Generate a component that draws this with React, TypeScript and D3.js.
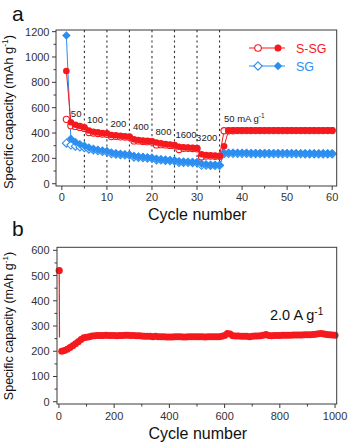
import React from "react";
import * as d3 from "d3";

// ---------- Panel a data ----------
const cyclesA = d3.range(1, 61);
const ssgDischarge = [890, 485, 465, 455, 445, 420, 410, 405, 400, 398, 385, 382, 378, 375, 372, 350, 345, 340, 338, 335, 325, 318, 314, 310, 306, 292, 288, 286, 284, 282, 232, 226, 224, 222, 220, 296, 420, 421, 421, 421, 421, 421, 421, 421, 421, 421, 421, 421, 421, 421, 421, 421, 421, 421, 421, 421, 421, 421, 421, 421];
const ssgCharge = [508, 458, 452, 444, 436, 404, 400, 396, 392, 390, 372, 374, 370, 368, 366, 338, 338, 334, 332, 330, 306, 308, 306, 302, 300, 270, 280, 280, 278, 276, 212, 218, 218, 216, 216, 418, 418, 418, 419, 419, 419, 419, 419, 419, 419, 419, 419, 419, 419, 419, 419, 419, 419, 419, 419, 419, 419, 419, 419, 419];
const sgDischarge = [1170, 355, 330, 312, 300, 285, 276, 268, 262, 258, 246, 241, 236, 232, 230, 220, 215, 212, 208, 205, 198, 194, 190, 187, 185, 178, 175, 173, 172, 170, 158, 153, 150, 149, 148, 242, 245, 245, 244, 244, 244, 243, 243, 243, 243, 242, 242, 242, 242, 242, 242, 241, 241, 241, 241, 241, 240, 240, 240, 240];
const sgCharge = [320, 305, 296, 290, 284, 272, 266, 260, 254, 250, 236, 233, 229, 226, 224, 210, 208, 205, 202, 200, 188, 187, 184, 182, 180, 168, 168, 167, 166, 165, 145, 145, 144, 144, 143, 236, 238, 238, 238, 238, 238, 237, 237, 237, 237, 237, 236, 236, 236, 236, 236, 236, 236, 235, 235, 235, 235, 235, 235, 235];
const rateBoundaries = [5, 10, 15, 20, 25, 30, 35];
const rateLabels = ["50", "100", "200", "400", "800", "1600", "3200"];
const rateLabelCycle = [2.0, 5.6, 10.8, 15.8, 20.8, 25.2, 29.8];
const rateLabelValue = [530, 480, 445, 425, 385, 360, 340];
const xTicksA = [0, 10, 20, 30, 40, 50, 60];
const yTicksA = [0, 200, 400, 600, 800, 1000, 1200];

// ---------- Panel b data ----------
const firstCyclesB = [1, 2];
const firstValuesB = [520, 255];
const cyclesB = d3.range(10, 1001, 10);
const valuesB = [
  200, 203, 208, 215, 222, 230, 238, 247, 254, 256,
  258, 260, 261, 262, 262, 262, 263, 262, 262, 262,
  261, 262, 262, 263, 263, 262, 262, 261, 261, 260,
  259, 259, 259, 258, 259, 258, 258, 258, 257, 257,
  257, 258, 258, 258, 257, 257, 258, 258, 258, 258,
  258, 258, 257, 258, 258, 258, 258, 258, 259, 262,
  270, 268, 261, 260, 260, 259, 259, 259, 258, 259,
  260, 260, 261, 263, 266, 262, 261, 262, 262, 262,
  263, 263, 263, 263, 264, 264, 264, 264, 265, 265,
  265, 266, 267, 269, 270, 268, 266, 265, 264, 263,
];
const xTicksB = [0, 200, 400, 600, 800, 1000];
const yTicksB = [0, 100, 200, 300, 400, 500, 600];

const RED = "#f5191e";
const BLUE = "#2b8ef0";
const AXIS = "#3a3a3a";
const FONT = "Liberation Sans, Arial, sans-serif";

function diamond(cx: number, cy: number, r: number) {
  return `M${cx},${cy - r}L${cx + r},${cy}L${cx},${cy + r}L${cx - r},${cy}Z`;
}

function Frame({ x0, x1, y0, y1 }: { x0: number; x1: number; y0: number; y1: number }) {
  return <rect x={x0} y={y0} width={x1 - x0} height={y1 - y0} fill="none" stroke={AXIS} strokeWidth={1} />;
}

function YLabel({ x, y, size }: { x: number; y: number; size: number }) {
  return (
    <text transform={`translate(${x},${y}) rotate(-90)`} textAnchor="middle" fontSize={size} fill="#111" fontFamily={FONT}>
      Specific capacity (mAh g<tspan dy={-size * 0.4} fontSize={size * 0.65}>-1</tspan><tspan dy={size * 0.4}>)</tspan>
    </text>
  );
}

export default function App() {
  // Panel a scales
  const ax = d3.scaleLinear().domain([-1.3, 61]).range([56, 336.7]);
  const ay = d3.scaleLinear().domain([-18, 1213]).range([186, 30]);
  // Panel b scales
  const bx = d3.scaleLinear().domain([-7, 1006]).range([57, 336.7]);
  const by = d3.scaleLinear().domain([-9, 612]).range([404, 247.3]);

  const lineA = (vals: number[]) =>
    d3.line<number>().x((_, i) => ax(cyclesA[i])).y((v) => ay(v))(vals) || "";

  const aMinorX = d3.range(0, 61, 5);
  const aMinorY = d3.range(0, 1201, 100);
  const bMinorX = d3.range(0, 1001, 100);
  const bMinorY = d3.range(0, 601, 50);

  const lineB = d3.line<number>().x((_, i) => bx(cyclesB[i])).y((v) => by(v))(valuesB) || "";
  const lineB0 = d3.line<number>().x((_, i) => bx(firstCyclesB[i])).y((v) => by(v))(firstValuesB) || "";

  const [ax0, ax1] = ax.range();
  const [ay0, ay1] = ay.range();
  const [bx0, bx1] = bx.range();
  const [by0, by1] = by.range();

  return (
    <svg width={349} height={446} style={{ position: "absolute", left: 0, top: 0, background: "#fff" }} fontFamily={FONT}>
      <rect width={349} height={446} fill="#fff" />
      {/* ============ Panel a ============ */}
      <text x={12} y={21} fontSize={21} fill="#111">a</text>
      <YLabel x={13} y={112} size={13} />
      {/* dashed rate boundaries */}
      {rateBoundaries.map((c) => (
        <line key={c} x1={ax(c)} x2={ax(c)} y1={ay1} y2={ay0} stroke="#333" strokeWidth={1.1} strokeDasharray="2.2,3" />
      ))}
      {/* ticks */}
      {aMinorX.map((t) => (
        <line key={"ax" + t} x1={ax(t)} x2={ax(t)} y1={ay0} y2={ay0 + (t % 10 === 0 ? 4 : 2.5)} stroke={AXIS} />
      ))}
      {aMinorY.map((t) => (
        <line key={"ay" + t} x1={ax0} x2={ax0 - (t % 200 === 0 ? 4 : 2.5)} y1={ay(t)} y2={ay(t)} stroke={AXIS} />
      ))}
      {xTicksA.map((t) => (
        <text key={"axl" + t} x={ax(t)} y={201} textAnchor="middle" fontSize={11} fill="#333">{t}</text>
      ))}
      {yTicksA.map((t) => (
        <text key={"ayl" + t} x={49.5} y={ay(t) + 4} textAnchor="end" fontSize={11} fill="#333">{t}</text>
      ))}
      {/* lines */}
      <path d={lineA(sgCharge)} fill="none" stroke={BLUE} strokeWidth={1} />
      <path d={lineA(sgDischarge)} fill="none" stroke={BLUE} strokeWidth={1} />
      <path d={lineA(ssgCharge)} fill="none" stroke={RED} strokeWidth={1} />
      <path d={lineA(ssgDischarge)} fill="none" stroke={RED} strokeWidth={1} />
      {/* markers */}
      {sgCharge.map((v, i) => (
        <path key={"sgc" + i} d={diamond(ax(cyclesA[i]), ay(v), 4)} fill="#fff" stroke={BLUE} strokeWidth={1.1} />
      ))}
      {sgDischarge.map((v, i) => (
        <path key={"sgd" + i} d={diamond(ax(cyclesA[i]), ay(v), 4)} fill={BLUE} stroke={BLUE} strokeWidth={0.5} />
      ))}
      {ssgCharge.map((v, i) => (
        <circle key={"ssc" + i} cx={ax(cyclesA[i])} cy={ay(v)} r={3.1} fill="#fff" stroke={RED} strokeWidth={1.1} />
      ))}
      {ssgDischarge.map((v, i) => (
        <circle key={"ssd" + i} cx={ax(cyclesA[i])} cy={ay(v)} r={3.3} fill={RED} />
      ))}
      {/* rate labels */}
      {rateLabels.map((l, i) => (
        <text key={"rl" + l} x={ax(rateLabelCycle[i])} y={ay(rateLabelValue[i])} fontSize={9.5} fill="#222">{l}</text>
      ))}
      <text x={224} y={121.5} fontSize={9.5} fill="#222">
        50 mA g<tspan dy={-3.5} fontSize={6.5}>-1</tspan>
      </text>
      {/* legend */}
      <line x1={249} x2={285} y1={48} y2={48} stroke={RED} strokeWidth={1} />
      <circle cx={258} cy={48} r={3.3} fill="#fff" stroke={RED} strokeWidth={1.1} />
      <circle cx={278} cy={48} r={3.5} fill={RED} />
      <text x={296} y={52.5} fontSize={12.5} fill={RED}>S-SG</text>
      <line x1={249} x2={285} y1={66} y2={66} stroke={BLUE} strokeWidth={1} />
      <path d={diamond(258, 66, 4.2)} fill="#fff" stroke={BLUE} strokeWidth={1.1} />
      <path d={diamond(278, 66, 4.2)} fill={BLUE} />
      <text x={296} y={70.5} fontSize={12.5} fill={BLUE}>SG</text>
      <Frame x0={ax0} x1={ax1} y0={ay1} y1={ay0} />
      <text x={(ax0 + ax1) / 2 + 1} y={220} textAnchor="middle" fontSize={16} fill="#111">Cycle number</text>

      {/* ============ Panel b ============ */}
      <text x={12} y={236} fontSize={21} fill="#111">b</text>
      <YLabel x={13} y={326} size={12.5} />
      {bMinorX.map((t) => (
        <line key={"bx" + t} x1={bx(t)} x2={bx(t)} y1={by0} y2={by0 + (t % 200 === 0 ? 4 : 2.5)} stroke={AXIS} />
      ))}
      {bMinorY.map((t) => (
        <line key={"by" + t} x1={bx0} x2={bx0 - (t % 100 === 0 ? 4 : 2.5)} y1={by(t)} y2={by(t)} stroke={AXIS} />
      ))}
      {xTicksB.map((t) => (
        <text key={"bxl" + t} x={bx(t)} y={420} textAnchor="middle" fontSize={11} fill="#333">{t}</text>
      ))}
      {yTicksB.map((t) => (
        <text key={"byl" + t} x={49.5} y={by(t) + 4} textAnchor="end" fontSize={11} fill="#333">{t}</text>
      ))}
      <path d={lineB0} fill="none" stroke={RED} strokeWidth={1.2} />
      <path d={lineB} fill="none" stroke={RED} strokeWidth={1} />
      <circle cx={bx(firstCyclesB[0])} cy={by(firstValuesB[0])} r={3.6} fill={RED} />
      {valuesB.map((v, i) => (
        <circle key={"b" + i} cx={bx(cyclesB[i])} cy={by(v)} r={3.5} fill={RED} />
      ))}
      <text x={270} y={320} fontSize={14.5} fill="#111">
        2.0 A g<tspan dy={-5} fontSize={10}>-1</tspan>
      </text>
      <Frame x0={bx0} x1={bx1} y0={by1} y1={by0} />
      <text x={(bx0 + bx1) / 2 + 1} y={439} textAnchor="middle" fontSize={16} fill="#111">Cycle number</text>
    </svg>
  );
}
